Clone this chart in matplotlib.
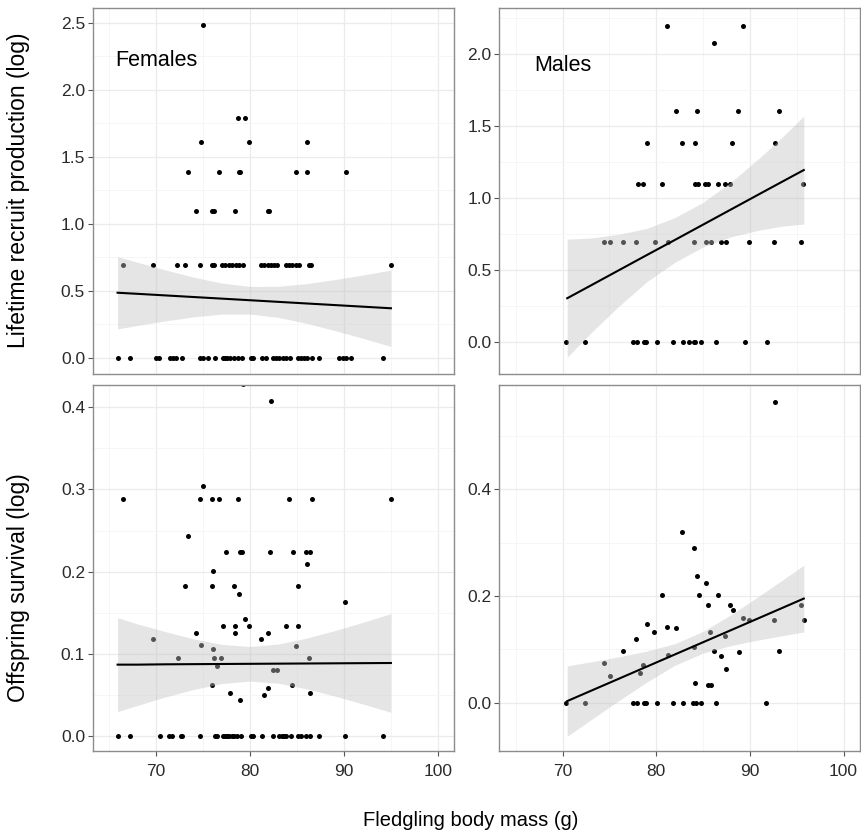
import numpy as np
import matplotlib
matplotlib.use("Agg")
import matplotlib.pyplot as plt
from matplotlib.ticker import MultipleLocator

plt.rcParams["font.family"] = ["Liberation Sans", "DejaVu Sans"]

# ---------------- DATA ----------------
# Females, lifetime recruit production (log)
fem_lrs_mass = [65.9, 67.2, 70.0, 70.3, 71.5, 71.8, 72.1, 72.8, 74.7, 75.0, 75.5, 76.3, 77.1, 77.3,
                77.6, 77.9, 78.3, 78.7, 79.1, 80.1, 80.3, 81.3, 81.7, 82.4, 82.8, 83.1, 83.5, 83.8,
                84.3, 85.1, 85.4, 85.8, 86.1, 86.6, 87.3, 89.5, 89.9, 90.2, 90.8, 94.2,
                66.45, 69.7, 72.2, 73.1, 74.7, 76.0, 76.2, 77.0, 77.3, 77.8, 78.1, 78.5, 78.8, 79.2,
                81.2, 81.5, 81.9, 82.2, 82.6, 82.9, 83.8, 84.2, 84.5, 84.9, 85.2, 86.3, 86.5, 95.0,
                74.2, 75.9, 76.2, 78.4, 81.9, 82.0,
                73.4, 76.7, 78.8, 78.9, 84.9, 86.1, 90.2,
                74.8, 79.9, 86.1,
                78.7, 79.5,
                75.0]
fem_lrs_val = ([0.0] * 40 + [0.693] * 28 + [1.099] * 6 + [1.386] * 7
               + [1.609] * 3 + [1.792] * 2 + [2.485] * 1)

# Males, lifetime recruit production (log)
mal_lrs_mass = [70.4, 72.4, 77.5, 77.9, 78.7, 78.9, 80.1, 81.8, 82.9, 83.5, 84.0, 84.1, 84.8, 86.4,
                89.5, 91.8,
                74.4, 75.1, 76.4, 77.8, 79.9, 81.3, 84.0, 85.3, 85.8, 86.9, 87.4, 89.9, 92.6, 95.5,
                78.1, 78.6, 80.6, 84.1, 84.5, 85.2, 85.5, 86.6, 87.3, 87.9, 95.7,
                79.0, 82.8, 84.1, 88.1, 92.7,
                82.1, 84.3, 88.7, 93.1,
                86.2,
                81.2, 89.3]
mal_lrs_val = ([0.0] * 16 + [0.693] * 14 + [1.099] * 11 + [1.386] * 5
               + [1.609] * 4 + [2.079] * 1 + [2.197] * 2)

# Females, offspring survival (log)
fem_surv_mass = [79.3, 82.2, 75.0, 66.5, 74.7, 75.9, 76.7, 78.7, 84.1, 86.6, 95.0, 73.4, 77.4, 78.9,
                 79.1, 82.1, 84.6, 86.0, 86.4, 86.1, 76.1, 73.1, 76.0, 78.3, 85.1, 78.8, 90.1, 79.5,
                 77.1, 78.4, 79.9, 83.8, 85.1, 74.2, 78.4, 81.9, 81.2, 69.7, 74.8, 84.9, 76.1, 72.3,
                 76.2, 76.9, 86.3, 76.5, 82.4, 82.9, 75.9, 84.5, 81.9, 77.9, 86.4, 81.5, 78.9,
                 65.9, 67.2, 70.4, 71.4, 71.7, 72.6, 72.8, 74.7, 76.3, 76.5, 77.1, 77.3, 77.6, 77.8,
                 78.1, 78.3, 78.6, 79.0, 80.1, 80.3, 81.3, 82.4, 83.1, 83.4, 83.6, 83.8, 84.4, 85.1,
                 85.4, 86.0, 86.4, 87.3, 90.1, 94.2]
fem_surv_val = [0.428, 0.407, 0.304, 0.288, 0.288, 0.288, 0.288, 0.288, 0.288, 0.288, 0.288, 0.243,
                0.224, 0.224, 0.224, 0.224, 0.224, 0.224, 0.224, 0.209, 0.201, 0.183, 0.183, 0.183,
                0.183, 0.173, 0.163, 0.142, 0.134, 0.134, 0.134, 0.134, 0.134, 0.126, 0.126, 0.126,
                0.118, 0.118, 0.111, 0.110, 0.106, 0.095, 0.095, 0.095, 0.095, 0.085, 0.081, 0.081,
                0.062, 0.062, 0.058, 0.052, 0.052, 0.050, 0.044] + [0.0] * 34

# Males, offspring survival (log)
mal_surv_mass = [70.4, 72.4, 74.4, 75.1, 76.4, 77.8, 77.5, 77.9, 78.3, 78.6, 79.0, 78.7, 78.9, 79.8,
                 80.1, 80.6, 81.2, 81.3, 81.8, 82.1, 82.8, 82.9, 84.0, 84.0, 84.1, 83.9, 84.2, 84.3,
                 84.6, 84.8, 85.3, 85.5, 85.8, 85.5, 85.7, 86.2, 86.4, 86.6, 86.9, 87.3, 87.5, 87.9,
                 88.2, 88.8, 89.3, 89.9, 91.7, 92.6, 92.7, 93.1, 95.5, 95.75]
mal_surv_val = [0.0, 0.0, 0.074, 0.050, 0.097, 0.120, 0.0, 0.0, 0.055, 0.070, 0.148, 0.0, 0.0, 0.133,
                0.0, 0.201, 0.141, 0.089, 0.0, 0.140, 0.320, 0.0, 0.289, 0.104, 0.036, 0.0, 0.0, 0.237,
                0.201, 0.0, 0.224, 0.034, 0.033, 0.183, 0.133, 0.097, 0.0, 0.201, 0.088, 0.125, 0.063,
                0.183, 0.173, 0.094, 0.158, 0.154, 0.0, 0.154, 0.564, 0.097, 0.183, 0.154]

# fitted lines and 95% CI ribbons
fem_lrs_fit_x = [65.9, 68, 71, 74, 77, 80, 83, 86, 89, 92, 95]
fem_lrs_fit = [0.485, 0.477, 0.465, 0.453, 0.441, 0.429, 0.417, 0.405, 0.393, 0.381, 0.369]
fem_lrs_lo = [0.215, 0.241, 0.275, 0.305, 0.325, 0.326, 0.301, 0.257, 0.203, 0.145, 0.084]
fem_lrs_hi = [0.755, 0.713, 0.655, 0.601, 0.557, 0.532, 0.533, 0.553, 0.583, 0.617, 0.654]

mal_lrs_fit_x = [70.5, 73, 76, 79, 82, 85, 88, 91, 93.5, 95.75]
mal_lrs_fit = [0.306, 0.394, 0.500, 0.606, 0.711, 0.817, 0.923, 1.029, 1.117, 1.196]
mal_lrs_lo = [-0.104, 0.064, 0.25, 0.421, 0.556, 0.662, 0.733, 0.779, 0.807, 0.821]
mal_lrs_hi = [0.716, 0.724, 0.75, 0.791, 0.866, 0.972, 1.113, 1.279, 1.427, 1.571]

fem_surv_fit_x = [65.9, 68, 71, 74, 77, 80, 83, 86, 89, 92, 95]
fem_surv_fit = [0.087, 0.087, 0.0874, 0.0876, 0.0878, 0.088, 0.0882, 0.0884, 0.0886, 0.0888, 0.089]
fem_surv_lo = [0.030, 0.0374, 0.0477, 0.0569, 0.0640, 0.067, 0.0644, 0.0577, 0.0489, 0.0392, 0.029]
fem_surv_hi = [0.144, 0.1366, 0.1271, 0.1183, 0.1116, 0.109, 0.112, 0.1191, 0.1283, 0.1384, 0.149]

mal_surv_fit_x = [70.5, 73, 76, 79, 82, 85, 88, 91, 93.5, 95.75]
mal_surv_fit = [0.003, 0.022, 0.0448, 0.0676, 0.0904, 0.1132, 0.136, 0.1588, 0.1778, 0.195]
mal_surv_lo = [-0.063, -0.0324, 0.0037, 0.0386, 0.0701, 0.0929, 0.107, 0.1177, 0.1256, 0.1325]
mal_surv_hi = [0.069, 0.0764, 0.0859, 0.0966, 0.1107, 0.1335, 0.165, 0.1999, 0.230, 0.2575]

# ---------------- FIGURE ----------------
W, H = 861, 839
fig = plt.figure(figsize=(W / 100, H / 100), dpi=100)


def px_axes(x0, y0, x1, y1):
    return fig.add_axes([x0 / W, 1 - y1 / H, (x1 - x0) / W, (y1 - y0) / H])


def style(ax, ylim, ymaj, xlabels):
    ax.set_xlim(63.25, 101.75)
    ax.set_ylim(*ylim)
    ax.xaxis.set_major_locator(MultipleLocator(10))
    ax.xaxis.set_minor_locator(MultipleLocator(5))
    ax.yaxis.set_major_locator(MultipleLocator(ymaj))
    ax.yaxis.set_minor_locator(MultipleLocator(ymaj / 2))
    ax.yaxis.set_major_formatter(plt.FormatStrFormatter("%.1f"))
    ax.grid(which="major", color="#ebebeb", lw=0.9, zorder=0)
    ax.grid(which="minor", color="#f5f5f5", lw=0.6, zorder=0)
    ax.set_axisbelow(True)
    for s in ax.spines.values():
        s.set_color("#8c8c8c")
        s.set_linewidth(1.0)
    ax.tick_params(which="minor", length=0)
    ax.tick_params(axis="y", which="major", length=3.5, width=0.8, color="#555555",
                   labelsize=12.5, labelcolor="#2b2b2b", pad=2)
    if xlabels:
        ax.tick_params(axis="x", which="major", length=3.5, width=0.8, color="#555555",
                       labelsize=12.5, labelcolor="#2b2b2b", pad=6)
    else:
        ax.tick_params(axis="x", which="major", length=0, labelbottom=False)


def draw(ax, mass, val, fx, fit, lo, hi):
    ax.plot(mass, val, "o", ms=3.6, color="black", mec="none", zorder=2)
    ax.fill_between(fx, lo, hi, color="#c3c3c3", alpha=0.43, lw=0, zorder=3)
    ax.plot(fx, fit, color="black", lw=1.5, zorder=4)


ax1 = px_axes(92.7, 8, 454.3, 374)
draw(ax1, fem_lrs_mass, fem_lrs_val, fem_lrs_fit_x, fem_lrs_fit, fem_lrs_lo, fem_lrs_hi)
style(ax1, (-0.122, 2.612), 0.5, False)
ax1.text(70, 2.22, "Females", ha="center", va="center", fontsize=15.5)

ax2 = px_axes(499.3, 8, 860, 374)
draw(ax2, mal_lrs_mass, mal_lrs_val, mal_lrs_fit_x, mal_lrs_fit, mal_lrs_lo, mal_lrs_hi)
style(ax2, (-0.22, 2.321), 0.5, False)
ax2.text(70, 1.92, "Males", ha="center", va="center", fontsize=15.5)

ax3 = px_axes(92.7, 385, 454.3, 751)
draw(ax3, fem_surv_mass, fem_surv_val, fem_surv_fit_x, fem_surv_fit, fem_surv_lo, fem_surv_hi)
style(ax3, (-0.018, 0.427), 0.1, True)

ax4 = px_axes(499.3, 385, 860, 751)
draw(ax4, mal_surv_mass, mal_surv_val, mal_surv_fit_x, mal_surv_fit, mal_surv_lo, mal_surv_hi)
style(ax4, (-0.0905, 0.595), 0.2, True)

fig.text(19 / W, 1 - 190 / H, "Lifetime recruit production (log)", rotation=90,
         ha="center", va="center", fontsize=16.5)
fig.text(19 / W, 1 - 588 / H, "Offspring survival (log)", rotation=90,
         ha="center", va="center", fontsize=16.5)
fig.text(471 / W, 1 - 820 / H, "Fledgling body mass (g)", ha="center", va="center", fontsize=14.5)

fig.savefig("out.png", dpi=100)
